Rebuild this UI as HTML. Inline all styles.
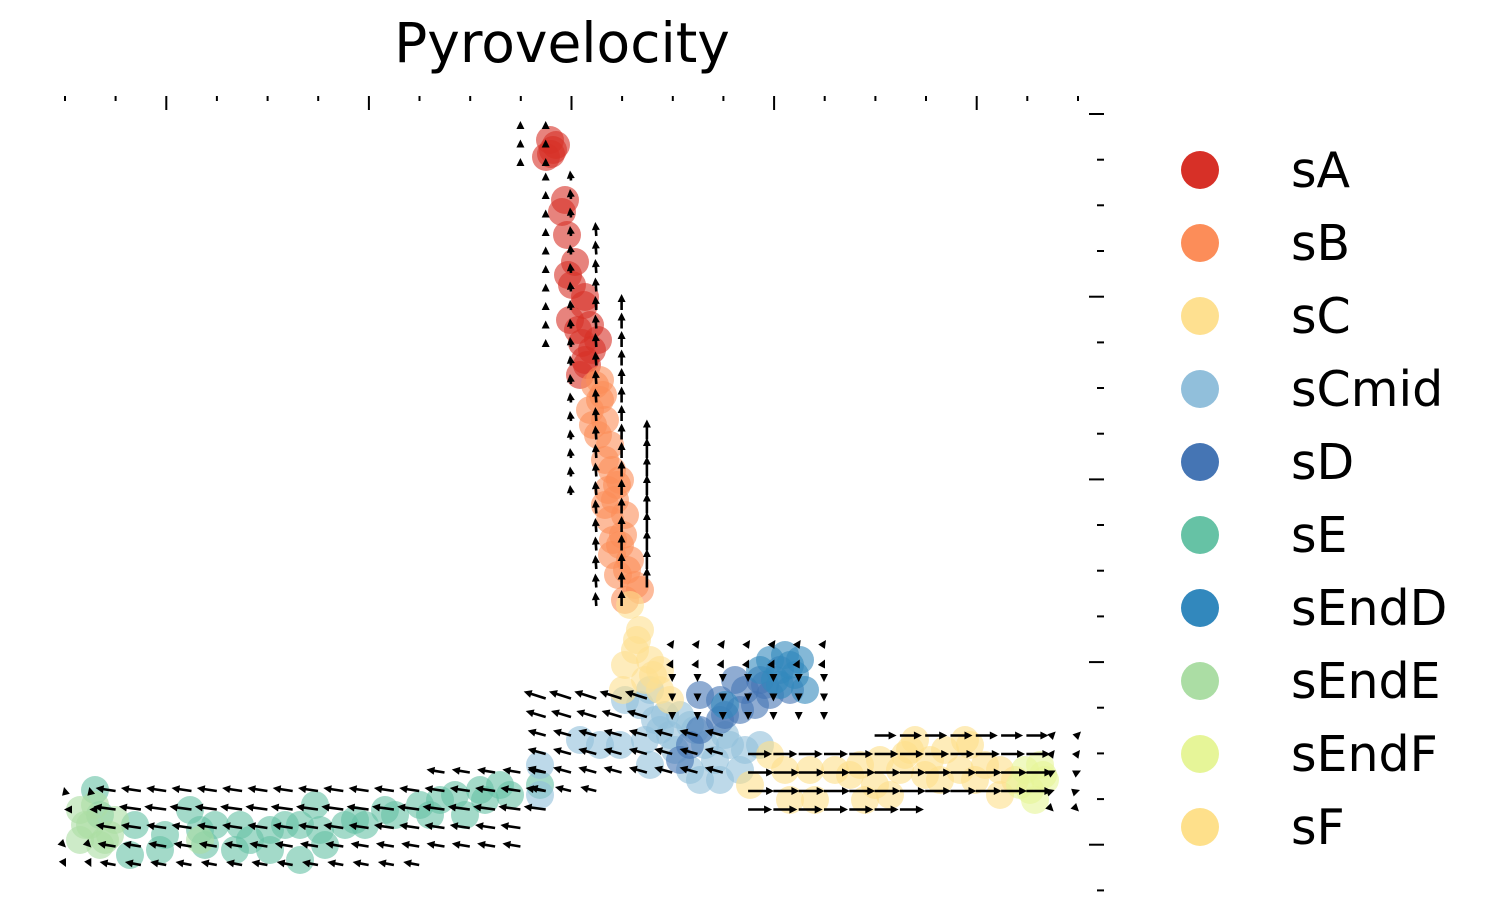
<!DOCTYPE html>
<html><head><meta charset="utf-8"><style>
html,body{margin:0;padding:0;background:#fff;}
svg{display:block;font-family:"DejaVu Sans","Liberation Sans",sans-serif;}
</style></head><body>
<svg id="chart" width="1489" height="923" viewBox="0 0 1489 923" xmlns="http://www.w3.org/2000/svg">
<text x="562" y="62" font-size="55" text-anchor="middle" fill="#000">Pyrovelocity</text>
<g id="ticks"></g>
<g id="points"></g>
<g id="arrows"></g>
<g id="legend"></g>
</svg>
<script>
const clusterNames = ["sA","sB","sC","sCmid","sD","sE","sEndD","sEndE","sEndF","sF"];
const clusterColors = ["#d73027","#fc8d59","#fee090","#91bfdb","#4575b4","#66c2a5","#3288bd","#abdda4","#e6f598","#fee08b"];
const drawOrder = ["sE","sEndE","sCmid","sD","sEndD","sF","sEndF","sA","sB","sC"];
const ptsX = {
 sA:[48.5,48.8,48.1,49.1,48.6,50,49.7,50.2,51,50.7,52,50.5,52.5,51.7,53.3,52,51.5,52.7,51.3,52.2,51.9,50.3],
 sB:[53,53.5,52.5,54,53.3,54.5,54,54.7,55.5,54.3,55,56,55.5,54.7,56.5,55.3,57,56,57.5,54.5,53.5,54,52.8,53.8,55.8,56.2,54.8,55.2],
 sC:[56.5,57.5,56,58.5,58,59.5,57,59.5,60.5,57.2,58.8,55.8],
 sCmid:[58.5,57.5,60,51.5,53.5,55.5,58,59.5,61,58.5,62.5,63.5,65,66.5,68,67.5,64,62.5,47.5,47.5,60.5,65.5,56,69.5,61.5,63,59,66],
 sD:[63.5,65.5,66,68,69.5,70.5,69,62.5,63.5,65.5,61.5,67,72.5,71.5,67.5,70],
 sEndD:[70.5,72,73.5,73,74,71.5,66,69.5,72.5,71],
 sF:[70.5,72,68.5,72.5,75,74.5,77,79.5,81.5,83.5,81,84.5,86.5,88,90.5,92,89.5,93.5,93.5,82.5,80,87.5,95,85,90,78.5,86,91,84],
 sEndF:[96,97.5,96.5,98,95.5,97,97.8],
 sE:[3,3.5,7,6.5,9.5,12.5,15,14,17.5,17,20.5,23.5,23.5,25,25.5,28,30,32,35.5,36.5,40,39,42,43.5,44.5,47.5,26,20.5,10,13.5,18.5,22,29,33,37.5,41.5],
 sEndE:[1.5,2.5,1.5,3.5,5,4.5,13.5,3,2,4]
};
const ptsY = {
 sA:[2.6,3.6,4.3,3.1,4.0,8.6,9.8,12.1,14.8,17.1,18.3,20.6,21.1,22.9,22.6,24.6,26.1,23.6,21.6,25.1,19.1,16.1],
 sB:[27.1,28.6,29.6,30.6,32.1,33.1,34.6,35.6,36.6,37.6,38.6,40.1,43.1,44.1,44.6,46.1,47.1,48.6,47.6,40.6,26.6,39.1,31.1,28.1,42.1,45.6,42.6,37.1],
 sC:[49.1,51.6,55.1,54.6,56.6,55.6,53.6,57.6,58.6,52.6,56.1,57.6],
 sCmid:[57.6,59.1,60.1,62.6,63.1,63.1,62.6,61.6,63.6,65.1,65.6,66.6,64.6,63.1,63.6,65.6,63.1,61.1,65.1,68.1,62.1,66.6,58.6,63.1,60.1,61.6,60.6,62.1],
 sD:[58.1,58.6,60.1,57.6,56.6,58.1,59.1,63.1,61.6,60.6,64.6,56.6,57.6,55.6,59.6,57.1],
 sEndD:[54.6,54.1,54.6,56.1,57.6,57.1,59.1,55.6,55.1,56.6],
 sF:[64.1,65.6,67.1,68.6,68.6,65.6,65.6,65.1,64.6,65.6,67.1,63.6,64.6,63.6,63.1,65.1,65.6,65.6,68.1,68.1,68.6,66.6,66.6,62.6,62.6,66.1,66.1,66.6,64.1],
 sEndF:[65.6,65.1,67.6,66.6,67.1,68.6,66.1],
 sE:[67.6,70.1,71.1,74.1,73.6,69.6,71.1,73.1,71.1,73.6,73.6,74.6,71.1,69.1,71.6,71.1,71.1,69.6,69.1,70.1,70.1,68.1,68.6,67.1,68.1,67.1,73.1,71.6,72.1,71.6,72.6,71.1,70.6,70.1,68.6,67.6],
 sEndE:[69.6,71.1,72.6,73.1,70.6,72.1,72.6,69.1,71.1,72.6]
};
// vertical velocity runs: column, rowStart, rowEnd, u, v
const colIdx   = [18,19,19,20,21,22,23];
const colRow0  = [ 0, 0, 3, 3, 6,10,17];
const colRow1  = [ 2, 2,12,20,26,26,25];
const colU     = [ 0, 0, 0,-1,-1, 0, 0];
const colV     = [-4,-4,-8,-10,-14,-16,-20];
// horizontal velocity runs: row, colStart, colEnd, u, v
const runRow   = [28,29,30,31,32,31,32,33,34,35,36,33,34,35,36,37,36,37,38,39,40,35,33,34,35,36,37,36,37,38,39,40];
const runStart = [24,24,24,24,24,19,19,19,19,19,19,32,27,27,27,27, 2, 2, 2, 2, 2,15,39,39,39,39,39, 0, 0, 0, 0, 0];
const runEnd   = [30,30,30,30,30,23,23,26,26,26,21,38,38,38,38,33,19,19,18,18,14,19,40,40,40,40,40, 1, 1, 1, 1, 1];
const runU     = [ 2, 1, 0, 0, 0,-22,-20,-18,-18,-18,-16,22,24,26,26,24,-20,-22,-20,-18,-16,-18, 4, 3, 4, 3, 2,-1,-1, 0, 1, 1];
const runV     = [-3,-2, 2, 3, 3,-7,-6,-5,-5,-5,-4, 0, 0, 0, 0, 0,-3,-3,-3,-3,-3,-3,-4,-4,-2,-1, 2,-4, 0, 0, 1, 2];
const xTicks = [0,5.06,10.13,15.19,20.26,25.32,30.39,35.45,40.52,45.58,50.65,55.71,60.78,65.84,70.91,75.97,81.04,86.1,91.17,96.23,101.3];
const yTicks = [0,4.57,9.13,13.7,18.27,22.84,27.4,31.97,36.54,41.1,45.67,50.24,54.81,59.37,63.94,68.51,73.07,77.64];

const NS="http://www.w3.org/2000/svg";
const sx = v => 65 + (v/101.3)*1013;
const sy = v => 114 + (v/77.7)*777;
function mk(tag, attrs, parent){const e=document.createElementNS(NS,tag);for(const k in attrs)e.setAttribute(k,attrs[k]);parent.appendChild(e);return e;}

const tg=document.getElementById('ticks');
xTicks.forEach((t,i)=>{
  const major=(i%4===2);
  const l=mk('line',{x1:sx(t),x2:sx(t),y1:96,y2:major?110:101,stroke:'#000','stroke-width':2},tg);
  
  
});
yTicks.forEach((t,i)=>{
  const major=(i%4===0);
  const l=mk('line',{x1:major?1089:1097,x2:1104,y1:sy(t),y2:sy(t),stroke:'#000','stroke-width':2},tg);
  
  
});

const pg=document.getElementById('points');
drawOrder.forEach(name=>{
  const c=clusterColors[clusterNames.indexOf(name)];
  ptsX[name].forEach((x,i)=>{
    const p=mk('circle',{cx:sx(x),cy:sy(ptsY[name][i]),r:14,fill:c,'fill-opacity':0.6},pg);
    
    
  });
});

const ag=document.getElementById('arrows');
const gx = i => 65 + 25.3*i;
const gy = j => 125 + 18.5*j;
function arrow(i,j,u,v){
  const x0=gx(i), y0=gy(j);
  const len=Math.hypot(u,v)||1;
  const ux=u/len, uy=v/len;
  const x1=x0+u, y1=y0+v;
  const g=document.createElementNS(NS,'g');
  
  
  ag.appendChild(g);
  if(len>7) mk('line',{x1:x0,y1:y0,x2:x1-ux*5,y2:y1-uy*5,stroke:'#000','stroke-width':2.6},g);
  const bx=x1-ux*8, by=y1-uy*8, px=-uy*4, py=ux*4;
  mk('polygon',{points:`${x1},${y1} ${bx+px},${by+py} ${bx-px},${by-py}`,fill:'#000'},g);
}
colIdx.forEach((i,k)=>{
  for(let j=colRow0[k];j<=colRow1[k];j++) arrow(i,j,colU[k],colV[k]);
});
runRow.forEach((j,k)=>{
  for(let i=runStart[k];i<=runEnd[k];i++) arrow(i,j,runU[k],runV[k]);
});

const lg=document.getElementById('legend');
clusterNames.forEach((n,i)=>{
  const y=170+73*i;
  const g=document.createElementNS(NS,'g');
  
  
  lg.appendChild(g);
  mk('circle',{cx:1200,cy:y,r:19,fill:clusterColors[i]},g);
  const t=mk('text',{x:1291,y:y+17,'font-size':49,fill:'#000'},g);
  t.textContent=n;
});
</script>
</body></html>
